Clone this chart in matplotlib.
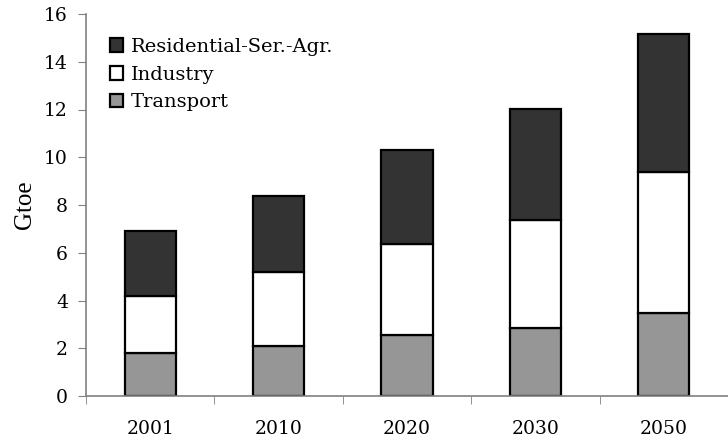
import numpy as np
import matplotlib
matplotlib.use("Agg")
import matplotlib.pyplot as plt

years = ["2001", "2010", "2020", "2030", "2050"]
transport = [1.79, 2.09, 2.54, 2.86, 3.46]
industry = [2.41, 3.12, 3.83, 4.51, 5.92]
residential = [2.71, 3.17, 3.93, 4.64, 5.78]
yticks = [0, 2, 4, 6, 8, 10, 12, 14, 16]

fig = plt.figure(figsize=(7.28, 4.41), dpi=100)
ax = fig.add_axes([86 / 728, 45 / 441, 642 / 728, 382 / 441])

x = np.arange(len(years))
w = 0.4
ec = "black"
lw = 1.6
b1 = ax.bar(x, transport, w, color="#969696", edgecolor=ec, linewidth=lw, label="Transport")
b2 = ax.bar(x, industry, w, bottom=transport, color="white", edgecolor=ec, linewidth=lw, label="Industry")
bot = np.array(transport) + np.array(industry)
b3 = ax.bar(x, residential, w, bottom=bot, color="#333333", edgecolor=ec, linewidth=lw,
            label="Residential-Ser.-Agr.")

ax.set_xlim(-0.5, 4.43)
ax.set_ylim(0, 16)
ax.set_yticks(yticks)
ax.set_yticklabels([str(v) for v in yticks], family="DejaVu Serif", fontsize=13.5)
ax.set_xticks(x)
ax.set_xticklabels(years, family="DejaVu Serif", fontsize=13.5)
ax.tick_params(axis="x", which="major", length=0, pad=17)
ax.set_xticks(np.arange(-0.5, 5, 1.0), minor=True)
ax.tick_params(axis="x", which="minor", length=6, color="#808080", direction="out")
ax.tick_params(axis="y", length=6, color="#808080", pad=7)

for s in ["top", "right"]:
    ax.spines[s].set_visible(False)
for s in ["left", "bottom"]:
    ax.spines[s].set_color("#808080")
    ax.spines[s].set_linewidth(1.2)

ax.set_ylabel("Gtoe", family="Liberation Serif", fontsize=18, labelpad=6)

leg = ax.legend([b3, b2, b1], ["Residential-Ser.-Agr.", "Industry", "Transport"],
                loc="upper left", bbox_to_anchor=(102 / 728, 1 - 30 / 441),
                bbox_transform=fig.transFigure, frameon=False,
                prop={"family": "DejaVu Serif", "size": 14},
                handlelength=0.7, handleheight=0.7, handletextpad=0.4,
                labelspacing=0.5, borderaxespad=0)

fig.savefig("out.png", dpi=100)
